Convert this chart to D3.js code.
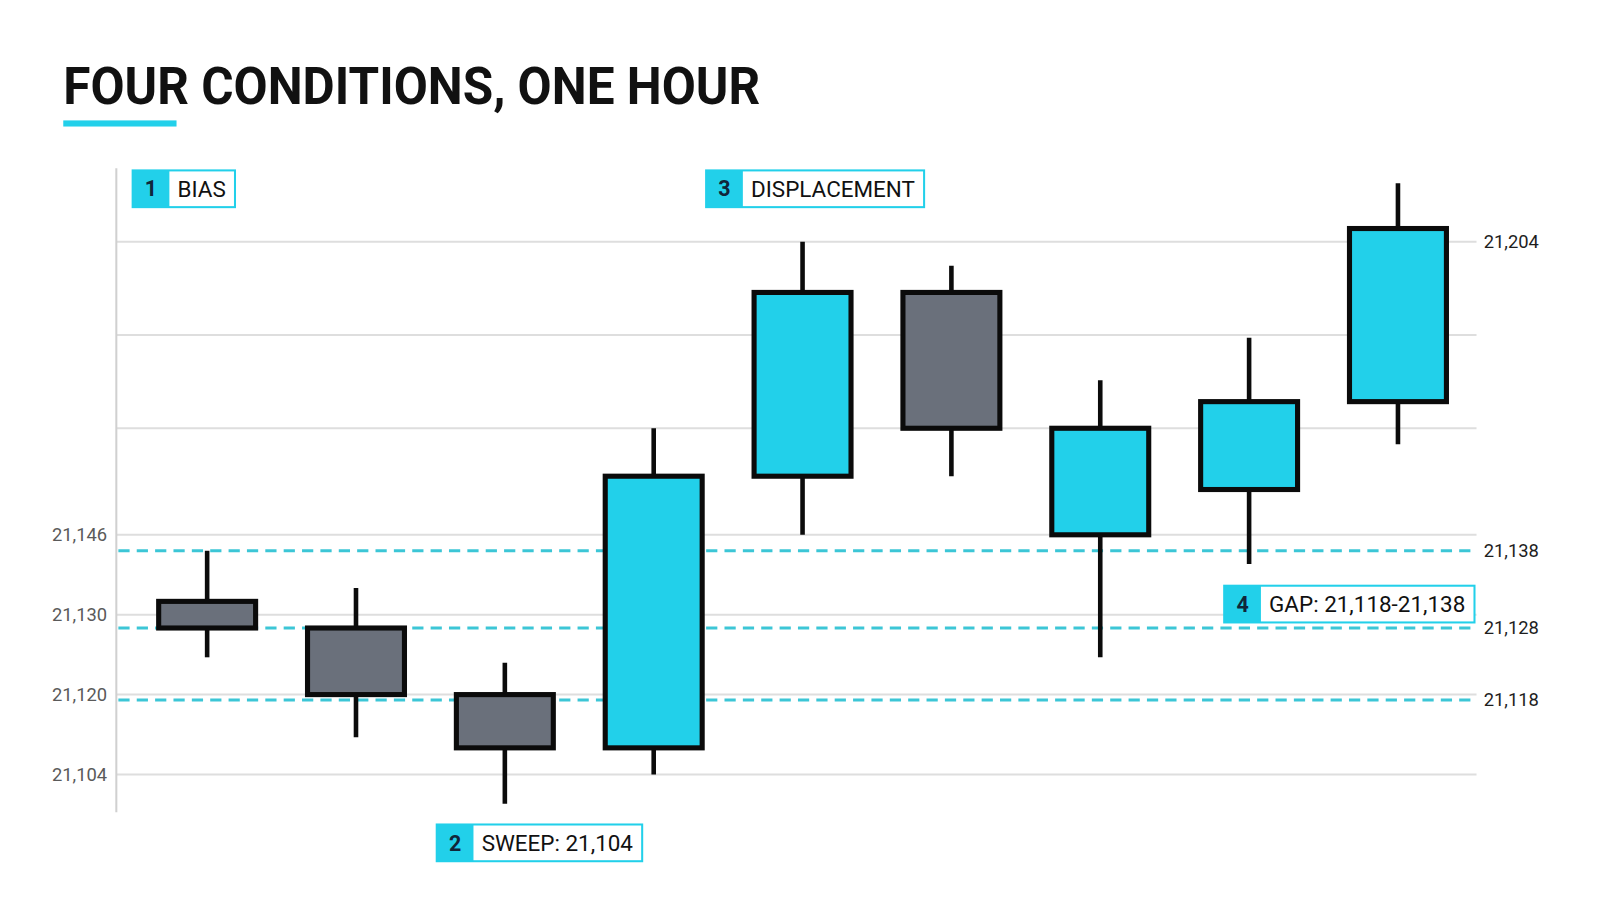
<!DOCTYPE html>
<html lang="en">
<head>
    <meta charset="UTF-8">
    <title>Four Conditions, One Hour</title>
    <script src="https://cdn.jsdelivr.net/npm/d3@7"></script>
    <style>
        body {
            margin: 0;
            padding: 0;
            background: #ffffff;
        }
        svg {
            display: block;
            font-family: Roboto, 'Noto Sans', sans-serif;
        }
        .grid line {
            stroke: #dedede;
            stroke-width: 2px;
        }
        .level line {
            stroke: #3cc6d6;
            stroke-width: 3px;
            stroke-dasharray: 11 7;
        }
        text.left-label {
            font-size: 18px;
            fill: #5a5a5a;
            text-anchor: end;
        }
        text.right-label {
            font-size: 18px;
            fill: #1e1e1e;
        }
        .anno text.num {
            font-size: 21px;
            font-weight: 700;
            fill: #10263a;
            text-anchor: middle;
        }
        .anno text.label {
            font-size: 22px;
            fill: #111111;
        }
    </style>
</head>
<body>
<div id="chart"></div>
<script>
    // candles
    const candles = ["C1", "C2", "C3", "C4", "C5", "C6", "C7", "C8", "C9"];
    const opens  = [21136.5, 21131.5, 21119, 21109, 21160, 21194.5, 21149, 21157.5, 21174];
    const highs  = [21146, 21139, 21125, 21169, 21204, 21199.5, 21178, 21186, 21215];
    const lows   = [21126, 21111, 21098.5, 21104, 21149, 21160, 21126, 21143.5, 21166];
    const closes = [21131.5, 21119, 21109, 21160, 21194.5, 21169, 21169, 21174, 21206.5];

    // horizontal gridlines and their printed labels
    const gridValues = [21104, 21119, 21134, 21149, 21169, 21186.5, 21204];
    const leftTickValues = [21149, 21134, 21119, 21104];
    const leftTickLabels = ["21,146", "21,130", "21,120", "21,104"];

    // dashed levels with labels on the right
    const levelValues = [21146, 21131.5, 21118];
    const levelLabels = ["21,138", "21,128", "21,118"];
    const topRightValue = 21204;
    const topRightLabel = "21,204";

    // numbered annotations
    const annoNums = ["1", "2", "3", "4"];
    const annoTexts = ["BIAS", "SWEEP: 21,104", "DISPLACEMENT", "GAP: 21,118-21,138"];

    const title = "FOUR CONDITIONS, ONE HOUR";

    const W = 1600, H = 914;
    const cyan = "#22d0ea", grey = "#6a707b";

    const root = d3.select("#chart")
        .append("svg")
        .attr("width", W)
        .attr("height", H);

    root.append("rect").attr("width", W).attr("height", H).attr("fill", "#fff");

    // layout was measured on a 1568-wide view, scale up to 1600
    const svg = root.append("g").attr("transform", "scale(" + (1600 / 1568) + ")");

    // title + accent bar
    svg.append("text")
        .attr("x", 62)
        .attr("y", 102)
        .attr("font-size", 50)
        .attr("font-weight", 700)
        .attr("fill", "#111")
        .attr("textLength", 683)
        .attr("lengthAdjust", "spacingAndGlyphs")
        .text(title);

    svg.append("rect")
        .attr("x", 62).attr("y", 118)
        .attr("width", 111).attr("height", 6)
        .attr("fill", cyan);

    // scales
    const plotLeft = 114, plotRight = 1447;
    var x = d3.scalePoint().domain(candles).range([203, 1370]);
    var y = d3.scaleLinear().domain([21104, 21204]).range([759, 237]);
    const bodyW = 95;

    // gridlines
    svg.append("g").attr("class", "grid")
        .selectAll("line")
        .data(gridValues)
        .join("line")
        .attr("x1", plotLeft).attr("x2", plotRight)
        .attr("y1", d => y(d)).attr("y2", d => y(d));

    // left axis line
    svg.append("line")
        .attr("x1", plotLeft).attr("x2", plotLeft)
        .attr("y1", 165).attr("y2", 796)
        .attr("stroke", "#d0d0d0")
        .attr("stroke-width", 2);

    // left labels
    svg.selectAll("text.left-label")
        .data(leftTickValues)
        .join("text")
        .attr("class", "left-label")
        .attr("x", 105)
        .attr("y", d => y(d))
        .attr("dy", "0.35em")
        .text((d, i) => leftTickLabels[i]);

    // dashed levels
    svg.append("g").attr("class", "level")
        .selectAll("line")
        .data(levelValues)
        .join("line")
        .attr("x1", plotLeft + 2).attr("x2", plotRight)
        .attr("y1", d => y(d)).attr("y2", d => y(d));

    svg.selectAll("text.right-label")
        .data(levelValues.concat([topRightValue]))
        .join("text")
        .attr("class", "right-label")
        .attr("x", 1454)
        .attr("y", d => y(d))
        .attr("dy", "0.35em")
        .text((d, i) => i < levelLabels.length ? levelLabels[i] : topRightLabel);

    // candles
    const rows = candles.map((c, i) => ({ c, o: opens[i], h: highs[i], l: lows[i], cl: closes[i] }));
    const cg = svg.append("g").selectAll("g")
        .data(rows)
        .join("g");

    cg.append("line")
        .attr("x1", d => x(d.c)).attr("x2", d => x(d.c))
        .attr("y1", d => y(d.h)).attr("y2", d => y(d.l))
        .attr("stroke", "#0b0b0b")
        .attr("stroke-width", 4.5);

    cg.append("rect")
        .attr("x", d => x(d.c) - bodyW / 2)
        .attr("width", bodyW)
        .attr("y", d => y(Math.max(d.o, d.cl)))
        .attr("height", d => Math.abs(y(d.o) - y(d.cl)))
        .attr("fill", d => d.cl >= d.o ? cyan : grey)
        .attr("stroke", "#0b0b0b")
        .attr("stroke-width", 5);

    // annotation boxes
    const annoPos = [
        { x: 130, y: 167 },
        { x: 428, y: 808 },
        { x: 692, y: 167 },
        { x: null, y: 574, right: 1445 }
    ];
    const boxH = 36, badgeW = 36;

    annoNums.forEach((n, i) => {
        const g = svg.append("g").attr("class", "anno");
        const p = annoPos[i];
        const box = g.append("rect")
            .attr("height", boxH)
            .attr("fill", "#fff")
            .attr("stroke", cyan)
            .attr("stroke-width", 2);
        const badge = g.append("rect")
            .attr("width", badgeW)
            .attr("height", boxH)
            .attr("fill", cyan);
        const num = g.append("text").attr("class", "num").text(n);
        const lab = g.append("text").attr("class", "label").text(annoTexts[i]);

        const tw = lab.node().getComputedTextLength();
        const bw = badgeW + 8 + tw + 9;
        const bx = p.right != null ? p.right - bw : p.x;

        box.attr("x", bx).attr("y", p.y).attr("width", bw);
        badge.attr("x", bx).attr("y", p.y);
        num.attr("x", bx + badgeW / 2).attr("y", p.y + boxH / 2).attr("dy", "0.36em");
        lab.attr("x", bx + badgeW + 8).attr("y", p.y + boxH / 2).attr("dy", "0.36em");
    });
</script>
</body>
</html>
